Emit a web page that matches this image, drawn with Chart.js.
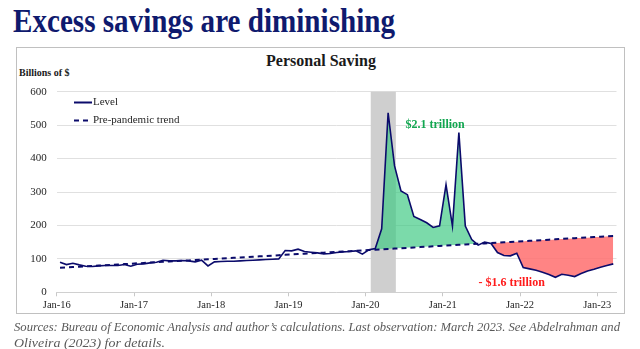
<!DOCTYPE html>
<html>
<head>
<meta charset="utf-8">
<script src="https://cdn.jsdelivr.net/npm/chart.js@4.4.0/dist/chart.umd.min.js"></script>
<style>
html,body{margin:0;padding:0;background:#fff;}
#wrap{position:relative;width:640px;height:349px;overflow:hidden;font-family:'Liberation Serif','Times New Roman',serif;}
.fit{position:absolute;white-space:nowrap;transform-origin:left top;}
#title{left:13px;top:1px;font-weight:bold;font-size:34px;line-height:40px;color:#0f1a6e;}
#box{position:absolute;left:16px;top:47px;width:609px;height:267px;border:1.5px solid #c0c0c0;box-sizing:border-box;}
#sub{position:absolute;left:0;width:642px;top:51px;text-align:center;font-weight:bold;font-size:16px;line-height:20px;color:#1a1a1a;}
#unit{position:absolute;left:19px;top:67px;font-weight:bold;font-size:10px;line-height:12px;color:#1a1a1a;}
.src{font-style:italic;font-size:12.5px;line-height:14px;color:#595959;left:14px;}
#src1{top:320px;}
#src2{top:336px;}
canvas{position:absolute;left:0;top:0;}
</style>
</head>
<body>
<div id="wrap">
  <div id="title" class="fit">Excess savings are diminishing</div>
  <div id="box"></div>
  <div id="sub">Personal Saving</div>
  <div id="unit">Billions of $</div>
  <canvas id="c" width="640" height="349"></canvas>
  <div id="src1" class="fit src">Sources: Bureau of Economic Analysis and author’s calculations. Last observation: March 2023. See Abdelrahman and</div>
  <div id="src2" class="fit src">Oliveira (2023) for details.</div>
</div>
<script>
// ---------- data ----------
const monthNames = ['Jan','Feb','Mar','Apr','May','Jun','Jul','Aug','Sep','Oct','Nov','Dec'];
const years = ['16','17','18','19','20','21','22','23'];
const tickLabels = ['Jan-16','Jan-17','Jan-18','Jan-19','Jan-20','Jan-21','Jan-22','Jan-23'];

// Personal saving, level (billions of $), Jan-16 .. Mar-23
const level = [
  90, 83, 87, 82, 78, 77, 79, 80, 80, 80, 83, 78,          // 2016
  84, 85, 88, 90, 96, 94, 94, 95, 94, 91, 96, 79,          // 2017
  91, 92, 93, 93, 94, 95, 96, 97, 98, 99, 100, 125,        // 2018
  124, 129, 122, 120, 118, 115, 116, 119, 121, 122, 124, 114, // 2019
  127, 131, 190, 537, 378, 303, 292, 227, 218, 208, 194, 199, // 2020
  322, 198, 478, 198, 158, 141, 150, 146, 119, 110, 109, 117, // 2021
  74, 70, 66, 60, 53, 45, 54, 51, 47, 56, 64, 69,          // 2022
  75, 80, 85                                               // 2023
];

// Pre-pandemic trend (billions of $)
const trend = [
  73.3, 74.4, 75.5, 76.6, 77.7, 78.8, 79.9, 81.0, 82.1, 83.3, 84.4, 85.5,
  86.6, 87.7, 88.8, 89.9, 91.0, 92.1, 93.2, 94.3, 95.4, 96.5, 97.6, 98.7,
  99.8, 100.9, 102.1, 103.2, 104.3, 105.4, 106.5, 107.6, 108.7, 109.8, 110.9, 112.0,
  113.1, 114.2, 115.3, 116.4, 117.5, 118.6, 119.8, 120.9, 122.0, 123.1, 124.2, 125.3,
  126.4, 127.5, 128.6, 129.7, 130.8, 131.9, 133.0, 134.1, 135.2, 136.3, 137.4, 138.6,
  139.7, 140.8, 141.9, 143.0, 144.1, 145.2, 146.3, 147.4, 148.5, 149.6, 150.7, 151.8,
  152.9, 154.0, 155.1, 156.2, 157.4, 158.5, 159.6, 160.7, 161.8, 162.9, 164.0, 165.1,
  166.2, 167.3, 168.4
];

const excessMonths = ['Jan-20', 'Jun-21'];     // accumulation of excess savings
const shortfallMonths = ['Aug-21', 'Mar-23'];  // drawdown below trend
const recession = [48.3, 52.2];                // shaded band (month index units, 0 = Jan-16)
const annotations = [
  {text: '$2.1 trillion', x: 58.3, y: 500, color: '#12a650'},
  {text: '- $1.6 trillion', x: 70.2, y: 27, color: '#ff1a1a'}
];

const months = [];
years.forEach(y => monthNames.forEach(m => months.push(m + '-' + y)));
months.length = level.length;

// ---------- helpers ----------
const NAVY = '#0b0b6b';
const GREEN = 'rgba(60,200,130,0.68)';
const RED = 'rgba(255,110,110,0.85)';
const toPts = (arr, a, b) => {
  const out = [];
  for (let i = a; i <= b; i++) out.push({x: i, y: arr[i]});
  return out;
};
const idx = m => months.indexOf(m);
const tickPos = tickLabels.map(l => idx(l) - 0.5);

const bandPlugin = {
  id: 'band',
  beforeDatasetsDraw(chart) {
    const {ctx, scales: {x, y}} = chart;
    const x0 = x.getPixelForValue(recession[0]);
    const x1 = x.getPixelForValue(recession[1]);
    const yt = y.getPixelForValue(y.max);
    const yb = y.getPixelForValue(y.min);
    ctx.save();
    ctx.fillStyle = '#cfcfcf';
    ctx.fillRect(x0, yt, x1 - x0, yb - yt);
    ctx.restore();
  }
};

const overlayPlugin = {
  id: 'overlay',
  afterDatasetsDraw(chart) {
    const {ctx, scales: {x, y}} = chart;
    ctx.save();
    const ds = chart.data.datasets;
    const items = [
      {label: ds[0].label, dash: [], yy: 102.5},
      {label: ds[1].label, dash: [5, 4], yy: 120.5}
    ];
    items.forEach(it => {
      ctx.beginPath();
      ctx.setLineDash(it.dash);
      ctx.strokeStyle = NAVY;
      ctx.lineWidth = 2;
      ctx.moveTo(74, it.yy);
      ctx.lineTo(92, it.yy);
      ctx.stroke();
      ctx.setLineDash([]);
      ctx.fillStyle = '#262626';
      ctx.font = '11px "Liberation Serif", serif';
      ctx.textAlign = 'left';
      ctx.textBaseline = 'middle';
      ctx.fillText(it.label, 93, it.yy);
    });
    annotations.forEach(a => {
      ctx.fillStyle = a.color;
      ctx.font = 'bold 12px "Liberation Serif", serif';
      ctx.textAlign = 'center';
      ctx.textBaseline = 'middle';
      ctx.fillText(a.text, x.getPixelForValue(a.x), y.getPixelForValue(a.y));
    });
    ctx.restore();
  }
};

new Chart(document.getElementById('c'), {
  type: 'line',
  data: {
    datasets: [
      {label: 'Level', data: toPts(level, 0, level.length - 1), borderColor: NAVY, borderWidth: 1.6,
       pointRadius: 0, fill: false, tension: 0, order: 0},
      {label: 'Pre-pandemic trend', data: toPts(trend, 0, trend.length - 1), borderColor: NAVY, borderWidth: 2,
       borderDash: [5, 4], pointRadius: 0, fill: false, tension: 0, order: 1},
      {label: 'excess', data: toPts(level, idx(excessMonths[0]), idx(excessMonths[1])),
       borderColor: 'rgba(0,0,0,0)', borderWidth: 0, pointRadius: 0, order: 2,
       fill: {target: 1, above: GREEN, below: 'rgba(0,0,0,0)'}},
      {label: 'shortfall', data: toPts(level, idx(shortfallMonths[0]), idx(shortfallMonths[1])),
       borderColor: 'rgba(0,0,0,0)', borderWidth: 0, pointRadius: 0, order: 3,
       fill: {target: 1, above: 'rgba(0,0,0,0)', below: RED}}
    ]
  },
  options: {
    responsive: false,
    devicePixelRatio: 1,
    animation: false,
    layout: {padding: {left: 0, right: 23.5, top: 91.7, bottom: 36.7}},
    plugins: {legend: {display: false}, tooltip: {enabled: false}},
    scales: {
      x: {
        type: 'linear', min: -0.5, max: months.length - 0.5,
        afterBuildTicks: s => { s.ticks = tickPos.map(v => ({value: v})); },
        afterFit: s => { s.height = 20; },
        ticks: {
          autoSkip: false, maxRotation: 0, padding: 3,
          callback: (v, i) => tickLabels[i],
          font: {family: 'Liberation Serif', size: 10.5}, color: '#262626'
        },
        grid: {drawOnChartArea: false, drawTicks: true, tickLength: 4, color: '#c8c8c8'},
        border: {display: true, color: '#d0d0d0'}
      },
      y: {
        min: 0, max: 600,
        afterFit: s => { s.width = 56.8; },
        ticks: {stepSize: 100, padding: 10, font: {family: 'Liberation Serif', size: 11}, color: '#262626'},
        grid: {color: '#e0e0e0', drawTicks: false},
        border: {display: false}
      }
    }
  },
  plugins: [bandPlugin, overlayPlugin]
});

function fitWidth(id, target) {
  const el = document.getElementById(id);
  const w = el.getBoundingClientRect().width;
  el.style.transform = 'scaleX(' + (target / w) + ')';
}
fitWidth('title', 382);
fitWidth('src1', 606);
fitWidth('src2', 151);
</script>
</body>
</html>
